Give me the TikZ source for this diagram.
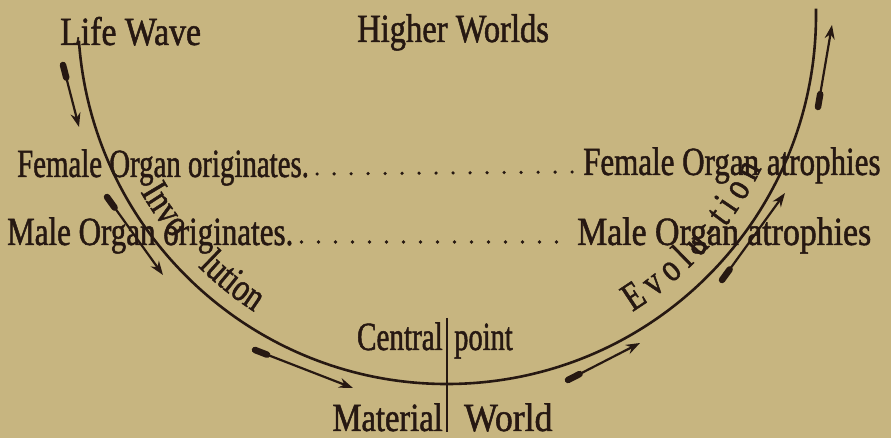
\documentclass[tikz,border=0pt]{standalone}
\usepackage{fontspec}
\newfontfamily\labfamily{Liberation Serif}[FakeStretch=0.775,FakeBold=1.2]
\usetikzlibrary{arrows.meta,calc,decorations.text}
\definecolor{paper}{RGB}{199,181,128}
\definecolor{ink}{RGB}{38,24,18}
\newcommand{\labfont}{\labfamily\fontsize{40}{40}\selectfont}
\begin{document}
\begin{tikzpicture}[x=1pt,y=1pt,
  lab/.style={font=\labfont, text=ink, inner sep=0pt},
  curve/.style={draw=ink, line width=2.6pt},
  leader/.style={draw=ink, line width=3.6pt, line cap=round, dash pattern=on 0pt off 17pt},
  arr/.style={draw=ink, line width=2.2pt, -{Stealth[length=14pt,width=10pt]}},
  feather/.style={draw=ink, line width=6.5pt, line cap=round}]
\fill[paper] (0,0) rectangle (891,438);
\useasboundingbox (0,0) rectangle (891,438);
\coordinate (c) at (447,423);
% main curve
\draw[curve] (c) ++(184:369) arc[start angle=184, end angle=361, radius=369];
% central vertical line
\coordinate (vt) at (447,120);
\coordinate (vb) at (447,6);
\draw[ink, line width=1.6pt] (vt) -- (vb);
% labels
\node[lab, anchor=base west] (lw) at (60,393) {\scalebox{1.09}[1]{Life Wave}};
\node[lab, anchor=base west] (hw) at (357,396) {\scalebox{1.05}[1]{Higher Worlds}};
\node[lab, anchor=base west] (fo) at (17,261) {\scalebox{0.93}[1]{Female Organ originates.}};
\node[lab, anchor=base west] (fa) at (583,263) {Female Organ atrophies};
\node[lab, anchor=base west] (mo) at (7,193) {Male Organ originates.};
\node[lab, anchor=base west] (ma) at (577,193) {\scalebox{1.09}[1]{Male Organ atrophies}};
\node[lab, anchor=base east] (ce) at (443,88) {\scalebox{0.94}[1]{Central}};
\node[lab, anchor=base west] (pt) at (454,88) {\scalebox{0.92}[1]{point}};
\node[lab, anchor=base east] (mt) at (443,7) {\scalebox{1.05}[1]{Material}};
\node[lab, anchor=base west] (wd) at (464,7) {\scalebox{1.15}[1]{World}};
% leaders
\draw[leader] ([xshift=8pt,yshift=3pt]fo.base east) -- ([xshift=-10pt,yshift=3pt]fa.base west);
\draw[leader] ([xshift=8pt,yshift=3pt]mo.base east) -- ([xshift=-10pt,yshift=3pt]ma.base west);
% curved texts
\path[decorate, decoration={text along path, text={|\labfont\color{ink}|Invo lution}, text align={fit to path stretching spaces}}]
  (c) ++(210:354) arc[start angle=210, end angle=237, radius=354];
\path[decorate, decoration={text along path, text={|\labfont\color{ink}|Evolu-tion}, text align={fit to path}}]
  (c) ++(302:350) arc[start angle=302, end angle=334, radius=350];
% arrows
\coordinate (a1s) at (63,373); \coordinate (a1e) at (79,311);
\coordinate (a2s) at (107,241); \coordinate (a2e) at (163,163);
\coordinate (a3s) at (255,88); \coordinate (a3e) at (353,50);
\coordinate (a4s) at (568,58); \coordinate (a4e) at (640,95);
\coordinate (a5s) at (722,158); \coordinate (a5e) at (785,245);
\coordinate (a6s) at (818,331); \coordinate (a6e) at (832,413);
\foreach \s/\e in {a1s/a1e,a2s/a2e,a3s/a3e,a4s/a4e,a5s/a5e,a6s/a6e}{
  \draw[arr] (\s) -- (\e);
  \draw[feather] (\s) -- ($(\s)!13pt!(\e)$);
}
\end{tikzpicture}
\end{document}
